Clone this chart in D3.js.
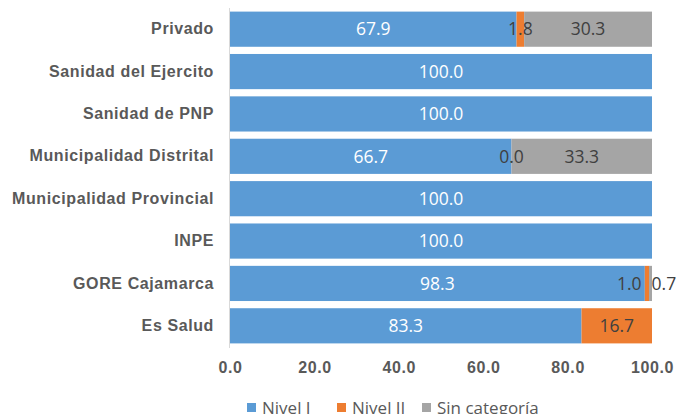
<!DOCTYPE html>
<html><head><meta charset="utf-8">
<script src="https://cdn.jsdelivr.net/npm/d3@7"></script>
<style>body{margin:0;background:#fff}svg{display:block}</style>
</head><body>
<svg id="c" width="676" height="414"></svg>
<script>
const categories = ["Privado","Sanidad del Ejercito","Sanidad de PNP","Municipalidad Distrital","Municipalidad Provincial","INPE","GORE Cajamarca","Es Salud"];
const nivelI = [67.9,100.0,100.0,66.7,100.0,100.0,98.3,83.3];
const nivelII = [1.8,null,null,0.0,null,null,1.0,16.7];
const sinCategoria = [30.3,null,null,33.3,null,null,0.7,null];
const seriesNames = ["Nivel I","Nivel II","Sin categoría"];
const xTicks = [0,20,40,60,80,100];

const colors = ["#5B9BD5","#ED7D31","#A5A5A5"];
const labelColors = ["#ffffff","#404040","#404040"];
const svg = d3.select("#c");
const x = d3.scaleLinear().domain([0,100]).range([230,652]);
const y = d3.scaleBand().domain(categories).range([8,347]).paddingInner(0.17).paddingOuter(0.085);

const table = categories.map((c,i)=>({cat:c, v:[nivelI[i],nivelII[i],sinCategoria[i]]}));

table.forEach(row=>{
  let acc=0;
  row.segs=[];
  row.v.forEach((v,k)=>{
    if(v===null){return;}
    const x0=acc, x1=acc+v; acc=x1;
    row.segs.push({k,v,x0,x1});
  });
});
const g = svg.append("g");
table.forEach(row=>{
  g.selectAll(null).data(row.segs).enter().append("rect")
    .attr("x",d=>x(d.x0)).attr("width",d=>Math.max(0,x(d.x1)-x(d.x0)))
    .attr("y",y(row.cat)).attr("height",y.bandwidth())
    .attr("fill",d=>colors[d.k]);
});

svg.append("line").attr("x1",229.5).attr("x2",229.5).attr("y1",8).attr("y2",348)
  .attr("stroke","#d9d9d9").attr("stroke-width",1);

const fontLbl = "17.5px 'Open Sans'";
table.forEach(row=>{
  const labs = row.segs.map(s=>({k:s.k, text:d3.format(".1f")(s.v), cx:x((s.x0+s.x1)/2)}));
  const tmp = svg.append("text").style("font",fontLbl);
  labs.forEach(l=>{tmp.text(l.text); l.w=tmp.node().getComputedTextLength();});
  tmp.remove();
  for(let it=0;it<20;it++){
    for(let i=0;i<labs.length-1;i++){
      const a=labs[i], b=labs[i+1];
      const need=(a.w+b.w)/2+10;
      const gap=b.cx-a.cx;
      if(gap<need){const d=(need-gap)/2; a.cx-=d*1.14; b.cx+=d*0.86;}
    }
  }
  svg.selectAll(null).data(labs).enter().append("text")
    .attr("x",d=>d.cx).attr("y",y(row.cat)+y.bandwidth()/2).attr("dy","0.36em")
    .attr("text-anchor","middle").style("font",fontLbl)
    .attr("fill",d=>labelColors[d.k]).text(d=>d.text);
});

const axisFont = "bold 16px 'Liberation Sans', Arial";
const yAxis = d3.axisLeft(y).tickSize(0).tickPadding(15);
const ya = svg.append("g").attr("transform","translate(229,0)").call(yAxis);
ya.select(".domain").remove();
ya.selectAll("text").style("font",axisFont).style("letter-spacing","0.6px").attr("fill","#595959");

const xAxis = d3.axisBottom(x).tickValues(xTicks).tickFormat(d3.format(".1f")).tickSize(0).tickPadding(0);
const xa = svg.append("g").attr("transform","translate(0,367)").call(xAxis);
xa.select(".domain").remove();
xa.selectAll("text").attr("dy","0.36em").style("font",axisFont).style("letter-spacing","0.6px").attr("fill","#595959");

const legX = [247,337,422];
const leg = svg.append("g");
seriesNames.forEach((n,i)=>{
  leg.append("rect").attr("x",legX[i]).attr("y",403).attr("width",9).attr("height",9).attr("fill",colors[i]);
  leg.append("text").attr("x",legX[i]+15).attr("y",407.5).attr("dy","0.36em")
    .style("font","17px 'Open Sans'").attr("fill","#595959").text(n);
});
</script>
</body></html>
